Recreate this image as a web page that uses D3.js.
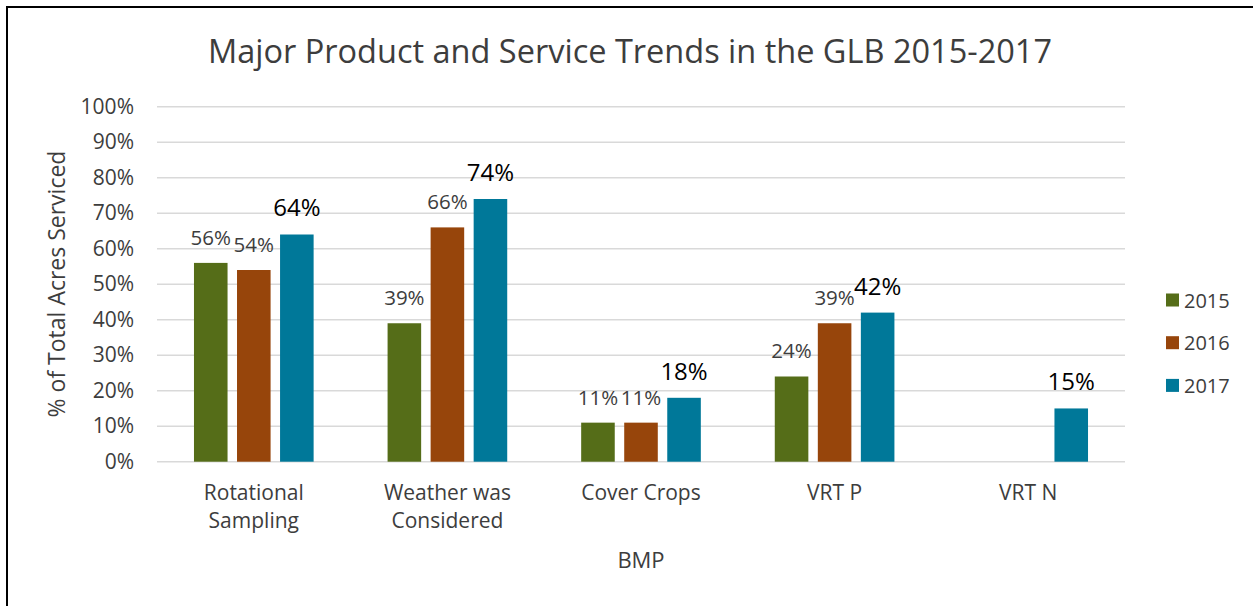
<!DOCTYPE html>
<html>
<head>
<meta charset="utf-8">
<script src="https://cdn.jsdelivr.net/npm/d3@7"></script>
<style>
  body { margin: 0; background: #fff; }
  text { font-family: "Open Sans", sans-serif; }
</style>
</head>
<body>
<div id="chart"></div>
<script>
const W = 1253, H = 606;
const margin = {top: 106.7, right: 128, bottom: 144.3, left: 157};
const width = W - margin.left - margin.right,
      height = H - margin.top - margin.bottom;

const categories = [["Rotational", "Sampling"], ["Weather was", "Considered"], ["Cover Crops"], ["VRT P"], ["VRT N"]];
const years = ["2015", "2016", "2017"];
const values2015 = [56, 39, 11, 24, null];
const values2016 = [54, 66, 11, 39, null];
const values2017 = [64, 74, 18, 42, 15];
const yTicks = [0, 10, 20, 30, 40, 50, 60, 70, 80, 90, 100];

const colors = {"2015": "#556d18", "2016": "#97450b", "2017": "#007899"};
const series = {"2015": values2015, "2016": values2016, "2017": values2017};
const textGray = "#3d3d3d";

const rows = categories.map((c, i) => ({
  key: c.join(" "), lines: c,
  vals: years.map(y => ({year: y, v: series[y][i]}))
}));

const svg = d3.select("#chart").append("svg")
  .attr("width", W).attr("height", H);

// chart border (only left and top visible)
svg.append("path")
  .attr("d", `M7,${H} L7,7 L${W},7`)
  .attr("fill", "none").attr("stroke", "#000").attr("stroke-width", 2);

const g = svg.append("g").attr("transform", `translate(${margin.left},${margin.top})`);

const x0 = d3.scaleBand().domain(rows.map(d => d.key)).range([0, width])
  .paddingInner(0.382).paddingOuter(0.191);
const x1 = d3.scaleBand().domain(years).range([0, x0.bandwidth()]).paddingInner(0.22);
const y = d3.scaleLinear().domain([0, 100]).range([height, 0]);

// gridlines
g.append("g").selectAll("line").data(yTicks).join("line")
  .attr("x1", 0).attr("x2", width)
  .attr("y1", d => y(d)).attr("y2", d => y(d))
  .attr("stroke", "#d9d9d9").attr("stroke-width", 1.5);

// y axis labels
const yAxis = g.append("g").call(d3.axisLeft(y).tickValues(yTicks).tickSize(0).tickPadding(23).tickFormat(d => d + "%"));
yAxis.select(".domain").remove();
yAxis.selectAll("text").attr("font-size", 21).attr("fill", textGray)
  .style("font-family", "Open Sans, sans-serif");

// bars
const grp = g.selectAll("g.cat").data(rows).join("g")
  .attr("class", "cat")
  .attr("transform", d => `translate(${x0(d.key)},0)`);

grp.selectAll("rect").data(d => d.vals.filter(v => v.v != null)).join("rect")
  .attr("x", d => x1(d.year))
  .attr("width", x1.bandwidth())
  .attr("y", d => y(d.v))
  .attr("height", d => y(0) - y(d.v))
  .attr("fill", d => colors[d.year]);

grp.selectAll("text.lbl").data(d => d.vals.filter(v => v.v != null)).join("text")
  .attr("class", "lbl")
  .attr("x", d => x1(d.year) + x1.bandwidth() / 2)
  .attr("y", d => y(d.v) - 18)
  .attr("text-anchor", "middle")
  .attr("font-size", d => d.year === "2017" ? 24 : 20.5)
  .attr("fill", d => d.year === "2017" ? "#000" : textGray)
  .text(d => d.v + "%");

// category labels
const xl = g.append("g").selectAll("text").data(rows).join("text")
  .attr("x", d => x0(d.key) + x0.bandwidth() / 2)
  .attr("y", height + 38)
  .attr("text-anchor", "middle")
  .attr("font-size", 21).attr("fill", textGray);
xl.selectAll("tspan").data(d => d.lines).join("tspan")
  .attr("x", function() { return this.parentNode.getAttribute("x"); })
  .attr("dy", (d, i) => i === 0 ? 0 : 28.5)
  .text(d => d);

// axis titles
g.append("text").attr("x", width / 2).attr("y", height + 106)
  .attr("text-anchor", "middle").attr("font-size", 22).attr("fill", textGray)
  .text("BMP");

svg.append("text")
  .attr("transform", `translate(65,284) rotate(-90)`)
  .attr("text-anchor", "middle").attr("font-size", 23).attr("fill", textGray)
  .text("% of Total Acres Serviced");

// title
svg.append("text").attr("x", 630).attr("y", 62.5)
  .attr("text-anchor", "middle").attr("font-size", 32.5).attr("fill", textGray)
  .text("Major Product and Service Trends in the GLB 2015-2017");

// legend
const leg = svg.append("g").selectAll("g").data(years).join("g")
  .attr("transform", (d, i) => `translate(1166,${300 + i * 42.7})`);
leg.append("rect").attr("x", 0).attr("y", -6.5).attr("width", 13).attr("height", 13)
  .attr("fill", d => colors[d]);
leg.append("text").attr("x", 18).attr("y", 7.5)
  .attr("font-size", 20).attr("fill", textGray).text(d => d);
</script>
</body>
</html>
